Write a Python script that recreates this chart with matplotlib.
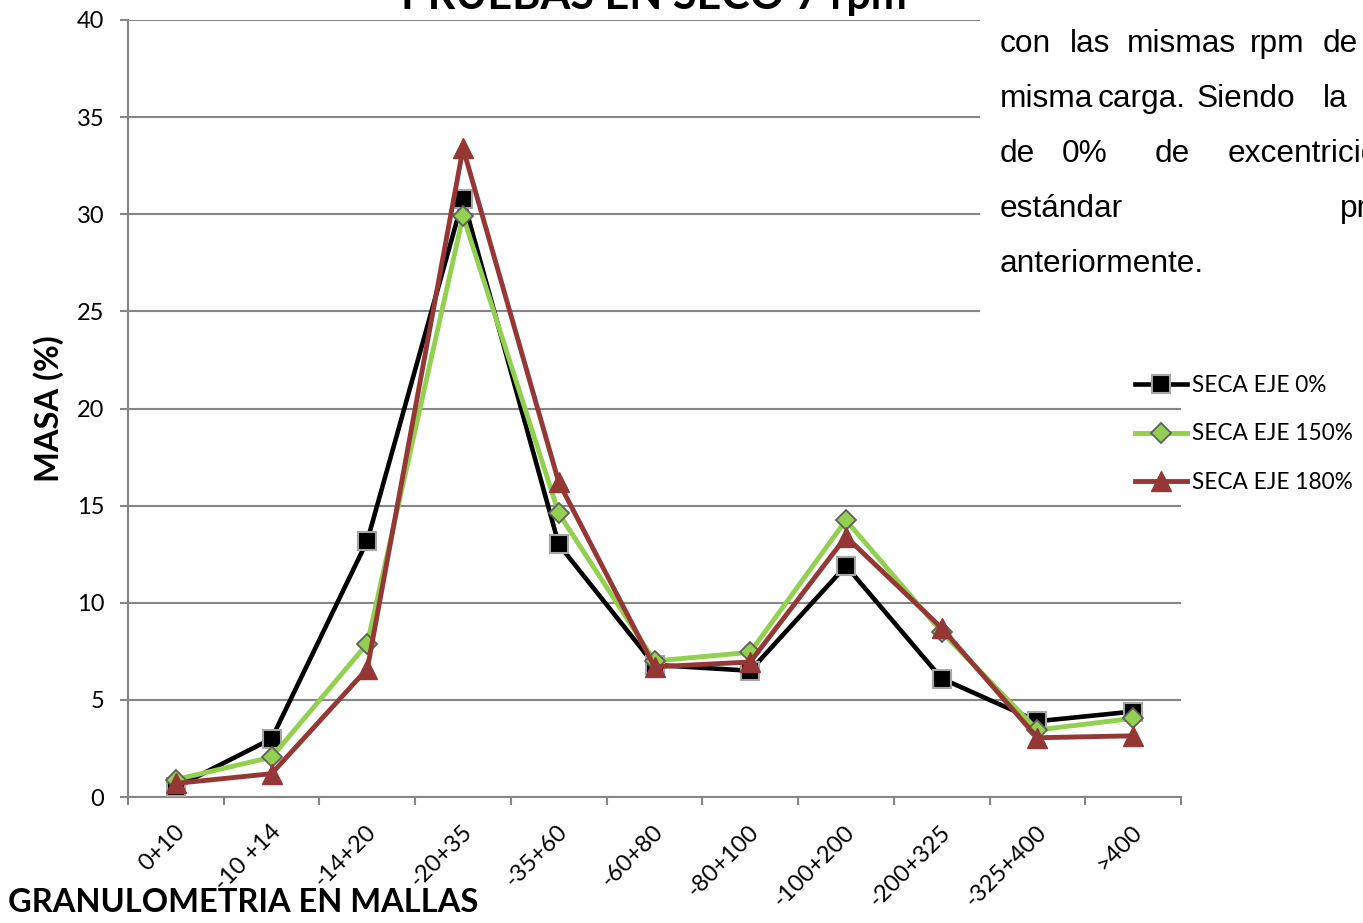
import numpy as np
import matplotlib.pyplot as plt
import matplotlib.transforms as mtransforms
from matplotlib.patches import Rectangle

W, H = 1363, 923

mallas = ['0+10', '-10 +14', '-14+20', '-20+35', '-35+60', '-60+80',
          '-80+100', '-100+200', '-200+325', '-325+400', '>400']
seca_0 = [0.5, 3.0, 13.2, 30.8, 13.0, 6.8, 6.5, 11.9, 6.1, 3.9, 4.4]
seca_150 = [0.9, 2.05, 7.9, 29.9, 14.6, 7.0, 7.45, 14.25, 8.5, 3.45, 4.05]
seca_180 = [0.7, 1.2, 6.6, 33.4, 16.2, 6.7, 6.95, 13.4, 8.7, 3.05, 3.15]

texto = [
    ['con', 'las', 'mismas', 'rpm', 'de'],
    ['misma', 'carga.', 'Siendo', 'la'],
    ['de', '0%', 'de', 'excentricidad'],
    ['estándar', 'presentada'],
    ['anteriormente.'],
]
texto_x = [
    [1000, 1070, 1127, 1250, 1323],
    [1000, 1098, 1197, 1323],
    [1000, 1062, 1155, 1228],
    [1000, 1340],
    [1000],
]

GRID = '#868686'
SANS = ['Lato', 'DejaVu Sans']

def fx(px):
    return px / W

def fy(py):
    return 1 - py / H

fig = plt.figure(figsize=(W / 100, H / 100), dpi=100)
ax = fig.add_axes([fx(128), fy(797), fx(1181) - fx(128), fy(20) - fy(797)])

x = np.arange(len(mallas))
ax.plot(x, seca_0, color='black', lw=3.3, marker='s', ms=12.5,
        mfc='black', mec='#a6a6a6', mew=1.5, label='SECA EJE 0%', zorder=3)
ax.plot(x, seca_150, color='#92d050', lw=3.5, marker='D', ms=10,
        mfc='#92d050', mec='#5f5f5f', mew=1.3, label='SECA EJE 150%', zorder=4)
ax.plot(x, seca_180, color='#953735', lw=3.5, marker='^', ms=14,
        mfc='#953735', mec='#953735', mew=1, label='SECA EJE 180%', zorder=5)

ax.set_xlim(-0.5, len(mallas) - 0.5)
ax.set_ylim(0, 40)
ax.set_yticks(np.arange(0, 41, 5))
ax.grid(axis='y', color=GRID, lw=1.5)
ax.set_axisbelow(True)
for s in ['top', 'right']:
    ax.spines[s].set_visible(False)
for s in ['left', 'bottom']:
    ax.spines[s].set_color(GRID)
    ax.spines[s].set_linewidth(1.5)

ax.set_xticks(x)
ax.set_xticks(np.arange(-0.5, len(mallas)), minor=True)
ax.tick_params(axis='x', which='major', length=0, pad=17.5)
ax.tick_params(axis='x', which='minor', length=6, width=1.5, color=GRID)
ax.tick_params(axis='y', length=6, width=1.5, color=GRID, labelsize=17, pad=11)
ax.set_xticklabels(mallas, rotation=45, ha='right', va='top',
                   rotation_mode='anchor', fontsize=17, family=SANS)
for lab in ax.get_yticklabels():
    lab.set_family(SANS)
# shift the slanted labels so their end sits under the category centre
off = mtransforms.ScaledTranslation(-2 / 100, 0, fig.dpi_scale_trans)
for lab in ax.get_xticklabels():
    lab.set_transform(lab.get_transform() + off)

ax.set_ylabel('MASA (%)', fontsize=23.5, fontweight='bold', family=SANS)
ax.yaxis.set_label_coords(fx(64 - 128) / (fx(1181) - fx(128)), 0.5)
fig.text(fx(8), fy(903), 'GRANULOMETRIA EN MALLAS', fontsize=23.5,
         fontweight='bold', family=SANS, ha='left', va='center')

fig.text(fx(654), fy(9), 'PRUEBAS EN SECO 7 rpm', fontsize=31,
         fontweight='bold', family=SANS, ha='center', va='baseline')

# page text lying over the chart
fig.add_artist(Rectangle((fx(980), fy(340)), 1 - fx(980), fy(0) - fy(340),
                         transform=fig.transFigure, facecolor='white',
                         edgecolor='none', zorder=5))
for i, (words, xs) in enumerate(zip(texto, texto_x)):
    for w, px in zip(words, xs):
        fig.text(fx(px), fy(44 + 55 * i), w, fontsize=22.8,
                 family='Liberation Sans', ha='left', va='center', zorder=6)

fig.legend(loc='center left', bbox_to_anchor=(fx(1126), fy(434)),
           frameon=False, prop={'family': SANS, 'size': 16.3},
           handlelength=2.3, handletextpad=0.2, labelspacing=1.2,
           borderaxespad=0)

fig.savefig('out.png', dpi=100)
